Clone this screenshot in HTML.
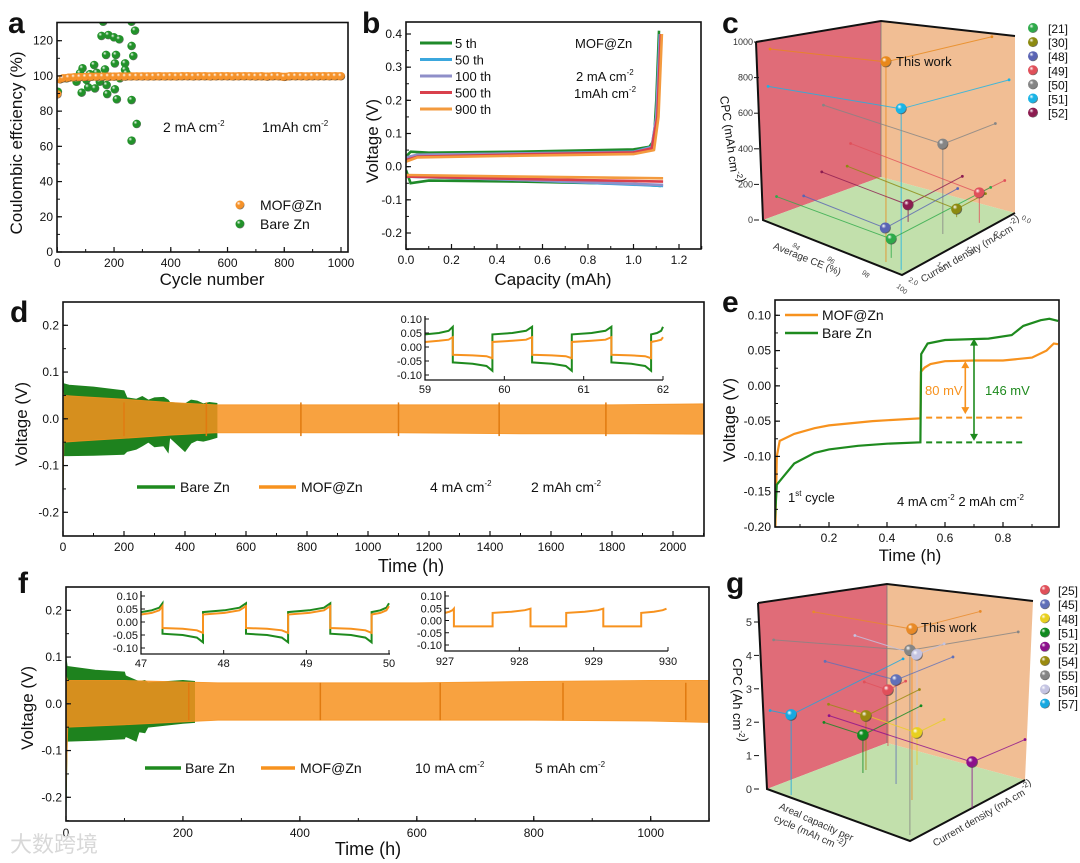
<!DOCTYPE html>
<html><head><meta charset="utf-8"><style>
html,body{margin:0;padding:0;background:#fff;}
svg{display:block;font-family:"Liberation Sans",Arial,sans-serif;}
</style></head>
<body>
<svg id="fig" width="1080" height="863" viewBox="0 0 1080 863" xmlns="http://www.w3.org/2000/svg"><defs id="defs"></defs></svg>
<script>
// ---------- Panel a data ----------
const aOrangeCycles=[1,10,20,40,60,80,100,120,140,160,180,200,220,240,260,280,300,320,340,360,380,400,420,440,460,480,500,520,540,560,580,600,620,640,660,680,700,720,740,760,780,800,820,840,860,880,900,920,940,960,980,1000];
const aOrangeCE=[89.5,98.0,98.6,99.0,99.2,99.3,99.4,99.5,99.5,99.6,99.6,99.6,99.7,99.6,99.7,99.7,99.7,99.7,99.7,99.8,99.7,99.8,99.7,99.8,99.8,99.7,99.8,99.8,99.7,99.8,99.8,99.8,99.7,99.8,99.8,99.8,99.7,99.8,99.6,99.8,99.8,99.4,99.8,99.8,99.8,99.7,99.8,99.8,99.8,99.8,99.8,99.8];
const aGreenCycles=[162,262,156,180,200,219,274,262,172,207,268,89,130,168,203,239,239,86,109,133,174,203,210,176,262,280,262,68,150,33,103,221,244,80,115,186,139,2];
const aGreenCE=[130.8,130.8,122.7,123.2,121.9,120.8,125.7,117,111.9,111.9,111.3,104.3,106.2,103.7,107.1,107.1,103.4,90.5,93.5,92.9,94.8,92.4,86.7,89.7,86.3,72.7,63.2,96.7,96.7,98.6,97.7,98.6,101.5,101.5,101,99.6,101.8,91];
const aXTicks=[0,200,400,600,800,1000];
const aYTicks=[0,20,40,60,80,100,120];
// ---------- Panel b data ----------
const bSeries=['5 th','50 th','100 th','500 th','900 th'];
const bColors=['#1f8a2a','#3ba7dd','#8f8fc9','#d9404c','#f39a3e'];
const bChargeCap=[[0,0.02,0.1,0.5,1.0,1.07,1.09,1.10,1.112],[0,0.05,0.5,1.0,1.08,1.10,1.115],[0,0.05,0.5,1.0,1.08,1.10,1.117],[0,0.05,0.5,1.0,1.08,1.105,1.12],[0,0.05,0.5,1.0,1.09,1.11,1.125]];
const bChargeV=[[0.03,0.045,0.042,0.045,0.052,0.06,0.08,0.2,0.41],[0.025,0.035,0.04,0.045,0.06,0.15,0.40],[0.028,0.036,0.04,0.044,0.058,0.15,0.40],[0.02,0.03,0.037,0.043,0.055,0.15,0.40],[0.015,0.028,0.033,0.038,0.05,0.15,0.40]];
const bDisCap=[[0,0.02,0.1,0.5,1.0,1.12],[0,0.5,1.13],[0,0.5,1.13],[0,0.5,1.13],[0,0.5,1.13]];
const bDisV=[[-0.01,-0.05,-0.042,-0.045,-0.052,-0.058],[-0.03,-0.04,-0.058],[-0.03,-0.04,-0.055],[-0.03,-0.037,-0.045],[-0.025,-0.03,-0.035]];
const bXTicks=[0,0.2,0.4,0.6,0.8,1.0,1.2];
const bYTicks=[-0.2,-0.1,0.0,0.1,0.2,0.3,0.4];
// ---------- Panel c data ----------
const cLabels=['This work','[51]','[50]','[49]','[52]','[30]','[48]','[21]'];
const cColors=['#e8881a','#1ab4e6','#858585','#e0505a','#8c1c50','#8c8a10','#5a64b4','#2eaa4a'];
const cCE=[98.67,99.66,98.87,99.41,96.97,98.3,96.7,98.6];
const cCD=[1.875,1.91,0.93,0.45,0.96,0.51,1.28,1.76];
const cCPC=[939,735,459,160,89,43,10,90];
const cLegend=['[21]','[30]','[48]','[49]','[50]','[51]','[52]'];
const cLegendColors=['#2eaa4a','#8c8a10','#5a64b4','#e0505a','#858585','#1ab4e6','#8c1c50'];
const cCPCTicks=[0,200,400,600,800,1000];
// ---------- Panel d data ----------
const dGreenT=[0,2,20,100,200,210,240,260,280,300,330,345,350,400,420,440,460,480,505];
const dGreenHi=[0.1,0.075,0.072,0.068,0.06,0.045,0.042,0.048,0.04,0.045,0.046,0.04,0.035,0.032,0.04,0.038,0.032,0.035,0.033];
const dGreenLo=[-0.19,-0.079,-0.079,-0.078,-0.076,-0.07,-0.065,-0.058,-0.05,-0.06,-0.058,-0.072,-0.04,-0.07,-0.052,-0.046,-0.048,-0.045,-0.04];
const dOrangeT=[0,3,50,200,350,500,800,1100,1500,1800,2100];
const dOrangeHi=[0.06,0.05,0.048,0.042,0.035,0.03,0.03,0.03,0.03,0.03,0.032];
const dOrangeLo=[-0.17,-0.05,-0.048,-0.042,-0.035,-0.03,-0.03,-0.03,-0.032,-0.032,-0.033];
const dSpikes=[200,470,780,1100,1430,1780];
const dXTicks=[0,200,400,600,800,1000,1200,1400,1600,1800,2000];
const dYTicks=[-0.2,-0.1,0.0,0.1,0.2];
const dInsetSwitch=[59.35,59.85,60.35,60.85,61.35,61.85];
const dInsetGreenHi=[0.045,0.05,0.058,0.072];
const dInsetGreenLo=[-0.055,-0.06,-0.068,-0.085];
const dInsetOrangeHi=[0.018,0.022,0.026,0.035];
const dInsetOrangeLo=[-0.028,-0.03,-0.033,-0.04];
// ---------- Panel e data ----------
const eOrangeT=[0.015,0.02,0.03,0.08,0.15,0.2,0.35,0.515,0.517,0.53,0.55,0.6,0.7,0.8,0.9,0.95,0.975,0.99];
const eOrangeV=[-0.2,-0.1,-0.078,-0.068,-0.06,-0.056,-0.05,-0.046,0.02,0.026,0.031,0.035,0.036,0.036,0.04,0.05,0.06,0.059];
const eGreenT=[0.012,0.02,0.04,0.08,0.15,0.2,0.3,0.4,0.515,0.518,0.54,0.6,0.75,0.83,0.87,0.93,0.96,0.99];
const eGreenV=[-0.2,-0.14,-0.13,-0.11,-0.095,-0.09,-0.085,-0.082,-0.08,0.045,0.06,0.065,0.067,0.072,0.085,0.093,0.095,0.092];
const eDashOrange=-0.045, eDashGreen=-0.08;
const eXTicks=[0.2,0.4,0.6,0.8];
const eYTicks=[-0.20,-0.15,-0.10,-0.05,0.00,0.05,0.10];
// ---------- Panel f data ----------
const fGreenT=[0,2,50,100,102,120,125,135,140,200,220];
const fGreenHi=[0.1,0.08,0.072,0.068,0.06,0.05,0.048,0.05,0.045,0.05,0.048];
const fGreenLo=[-0.25,-0.08,-0.078,-0.075,-0.07,-0.08,-0.06,-0.062,-0.05,-0.042,-0.04];
const fOrangeT=[0,3,100,260,400,600,800,1000,1100];
const fOrangeHi=[0.06,0.05,0.05,0.045,0.045,0.045,0.048,0.05,0.05];
const fOrangeLo=[-0.2,-0.05,-0.045,-0.035,-0.035,-0.035,-0.035,-0.037,-0.04];
const fSpikes=[210,435,640,850,1060];
const fXTicks=[0,200,400,600,800,1000];
const fYTicks=[-0.2,-0.1,0.0,0.1,0.2];
const f1Switch=[47.26,47.75,48.27,48.78,49.29,49.79];
const f1GreenHi=[0.038,0.045,0.055,0.072];
const f1GreenLo=[-0.045,-0.05,-0.06,-0.078];
const f1OrangeHi=[0.029,0.035,0.045,0.061];
const f1OrangeLo=[-0.023,-0.026,-0.032,-0.042];
const f2Switch=[927.12,927.64,928.15,928.63,929.13,929.64];
const f2OrangeHi=[0.031,0.036,0.042,0.048];
const f2OrangeLo=[-0.024,-0.024,-0.024,-0.024];
// ---------- Panel g data ----------
const gLabels=['This work','[55]','[56]','[45]','[25]','[57]','[54]','[51]','[48]','[52]'];
const gColors=['#e88a28','#858585','#c4c4e2','#6070b8','#e0505a','#18a8e0','#9a8a10','#108a20','#e8d020','#8c108c'];
const gAreal=[4.28,5.74,2.89,3.23,1.41,1.31,1.94,2.0,2.89,6.0];
const gCD=[5.94,9.42,2.36,4.95,1.54,9.73,4.65,5.05,2.36,4.6];
const gCPC=[4.56,4.36,3.2,2.9,1.66,2.3,1.56,1.09,0.93,1.21];
const gLegend=['[25]','[45]','[48]','[51]','[52]','[54]','[55]','[56]','[57]'];
const gLegendColors=['#e0505a','#6070b8','#e8d020','#108a20','#8c108c','#9a8a10','#858585','#c4c4e2','#18a8e0'];
const gCPCTicks=[0,1,2,3,4,5];

// ---------- helpers ----------
const NS='http://www.w3.org/2000/svg';
const svg=document.getElementById('fig');
const defs=document.getElementById('defs');
function el(tag,attrs,parent){const e=document.createElementNS(NS,tag);for(const k in attrs)e.setAttribute(k,attrs[k]);(parent||svg).appendChild(e);return e;}
function lin(d0,d1,r0,r1){return v=>r0+(v-d0)/(d1-d0)*(r1-r0);}
function txt(x,y,s,o,parent){o=o||{};const t=el('text',{x:x,y:y,'font-size':o.size||12,'text-anchor':o.anchor||'start',fill:o.fill||'#111'},parent);if(o.weight)t.setAttribute('font-weight',o.weight);if(o.rot!==undefined)t.setAttribute('transform','rotate('+o.rot+' '+x+' '+y+')');t.innerHTML=s;return t;}
function sup(s){return '<tspan dy="-6" font-size="8">'+s+'</tspan>';}
const gradCache={};
function grad(c){if(gradCache[c])return gradCache[c];const id='gr'+c.slice(1);const g=el('radialGradient',{id:id,cx:'0.4',cy:'0.38',r:'0.62',fx:'0.33',fy:'0.3'},defs);el('stop',{offset:'0',"stop-color":'#ffffff'},g);el('stop',{offset:'0.35',"stop-color":c},g);el('stop',{offset:'0.85',"stop-color":c},g);el('stop',{offset:'1',"stop-color":'#333333','stop-opacity':'0.7'},g);gradCache[c]='url(#'+id+')';return gradCache[c];}
function ball(x,y,r,c,parent){return el('circle',{cx:x,cy:y,r:r,fill:grad(c)},parent);}
function fmt(v,d){return (v<0?'-':'')+Math.abs(v).toFixed(d);}
function frame(g,x0,y0,x1,y1){return el('rect',{x:x0,y:y0,width:x1-x0,height:y1-y0,fill:'none',stroke:'#111','stroke-width':1.6},g);}
function xticks(g,xs,ticks,yb,minorStep,lo,hi,lab,dec,size){ticks.forEach(t=>{el('line',{x1:xs(t),x2:xs(t),y1:yb,y2:yb-5,stroke:'#111','stroke-width':1.2},g);const tl=txt(xs(t),yb+lab,fmt(t,dec),{anchor:'middle',size:size||12},g);});if(minorStep){for(let t=lo;t<=hi+1e-9;t+=minorStep){el('line',{x1:xs(t),x2:xs(t),y1:yb,y2:yb-3,stroke:'#111','stroke-width':1},g);}}}
function yticks(g,ys,ticks,xl,minorStep,lo,hi,dec,size){ticks.forEach(t=>{el('line',{x1:xl,x2:xl+5,y1:ys(t),y2:ys(t),stroke:'#111','stroke-width':1.2},g);const tl=txt(xl-4,ys(t)+4,fmt(t,dec),{anchor:'end',size:size||12},g);});if(minorStep){for(let t=lo;t<=hi+1e-9;t+=minorStep){el('line',{x1:xl,x2:xl+3,y1:ys(t),y2:ys(t),stroke:'#111','stroke-width':1},g);}}}
function clip(id,x0,y0,x1,y1){const c=el('clipPath',{id:id},defs);el('rect',{x:x0,y:y0,width:x1-x0,height:y1-y0},c);return 'url(#'+id+')';}
function pathOf(xs,ys,X,Y){return X.map((t,i)=>(i?'L':'M')+xs(t).toFixed(1)+' '+ys(Y[i]).toFixed(1)).join(' ');}
function band(g,xs,ys,T,H,L,color,op){let d=T.map((t,i)=>(i?'L':'M')+xs(t).toFixed(1)+' '+ys(H[i]).toFixed(1)).join(' ');for(let i=T.length-1;i>=0;i--)d+='L'+xs(T[i]).toFixed(1)+' '+ys(L[i]).toFixed(1);d+='Z';return el('path',{d:d,fill:color,'fill-opacity':op,stroke:color,'stroke-width':0.8,'stroke-opacity':op},g);}
function square(xs,ys,sw,x0,x1,hi,lo){const bounds=[x0].concat(sw).concat([x1]);const fr=[0,0.5,0.85,1];let pts=[];for(let s=0;s<bounds.length-1;s++){const a=bounds[s],b=bounds[s+1];const sh=(s%2===0)?hi:lo;fr.forEach((f,k)=>pts.push([a+(b-a)*f,sh[k]]));}return pts.map((p,i)=>(i?'L':'M')+xs(p[0]).toFixed(1)+' '+ys(p[1]).toFixed(1)).join(' ');}
function panelLetter(x,y,s){const t=txt(x,y,s,{size:30,weight:'bold'});return t;}

// ================= Panel a =================
(function(){
const g=el('g',{});


const xs=lin(0,1000,57.3,341),ys=lin(0,120,252,40.7);
const cp=clip('clipA',57,22.5,348,252);
const pts=el('g',{'clip-path':cp},g);
aGreenCycles.forEach((c,i)=>{const b=ball(xs(c),ys(aGreenCE[i]),4.3,'#22922a',pts);});
const ol=el('path',{d:pathOf(xs,ys,aOrangeCycles.slice(1),aOrangeCE.slice(1)),fill:'none',stroke:'#f5922a','stroke-width':8,'stroke-linecap':'round'},pts);


aOrangeCycles.forEach((c,i)=>{const b=ball(xs(c),ys(aOrangeCE[i]),4.2,'#f5922a',pts);});
const fr=frame(g,57,22.5,348,252);
xticks(g,xs,aXTicks,252,100,0,1000,15,0,12);
yticks(g,ys,aYTicks,57,10,0,120,0,12);
const yt=txt(22,143,'Coulombic effciency (%)',{size:17,anchor:'middle',rot:-90},g);
const xt=txt(212,285,'Cycle number',{size:17,anchor:'middle'},g);
const t1=txt(163,132,'2 mA cm'+sup('-2'),{size:14},g);
const t2=txt(262,132,'1mAh cm'+sup('-2'),{size:14},g);
const l1=ball(240,205,4.5,'#f5922a',g);
const l1t=txt(260,210,'MOF@Zn',{size:14},g);
const l2=ball(240,224,4.5,'#22922a',g);
const l2t=txt(260,229,'Bare Zn',{size:14},g);
panelLetter(8,33,'a');
})();

// ================= Panel b =================
(function(){
const g=el('g',{});


const xs=lin(0,1.2,406,679),ys=lin(0.4,-0.2,34,233);
const cp=clip('clipB',406,22,701,249);
const lg=el('g',{'clip-path':cp},g);
bSeries.forEach((s,i)=>{
 const p1=el('path',{d:pathOf(xs,ys,bChargeCap[i],bChargeV[i]),fill:'none',stroke:bColors[i],'stroke-width':2.6,'stroke-linejoin':'round'},lg);
 
 
 const p2=el('path',{d:pathOf(xs,ys,bDisCap[i],bDisV[i]),fill:'none',stroke:bColors[i],'stroke-width':2.6},lg);
 
 
 const ly=43+i*16.5;
 const ll=el('line',{x1:420,x2:452,y1:ly,y2:ly,stroke:bColors[i],'stroke-width':3},g);
 
 
 const lt=txt(455,ly+5,s,{size:13},g);
 
 
});
const fr=frame(g,406,22,701,249);
xticks(g,xs,bXTicks,249,0.1,0,1.3,15,1,12);
yticks(g,ys,bYTicks,406,0.05,-0.25,0.4,1,12);
const yt=txt(378,141,'Voltage (V)',{size:17,anchor:'middle',rot:-90},g);
const xt=txt(553,285,'Capacity (mAh)',{size:17,anchor:'middle'},g);
const a1=txt(575,48,'MOF@Zn',{size:13},g);
const a2=txt(576,81,'2 mA cm'+sup('-2'),{size:13},g);
const a3=txt(574,98,'1mAh cm'+sup('-2'),{size:13},g);
panelLetter(362,33,'b');
})();

// ================= 3D helper =================
function box3d(g,P){
 const lw=el('polygon',{points:P.lw,fill:'#e06c78'},g);
 const rw=el('polygon',{points:P.rw,fill:'#f1be94'},g);
 const fl=el('polygon',{points:P.fl,fill:'#c2e0ac'},g);
 el('line',{x1:P.B[0],y1:P.B[1],x2:P.Bt[0],y2:P.Bt[1],stroke:'#777','stroke-width':0.8},g);
 el('polyline',{points:[P.Lt,P.L,P.F,P.R].map(p=>p.join(',')).join(' '),fill:'none',stroke:'#111','stroke-width':2},g);
 el('polyline',{points:[P.Lt,P.Bt,P.Rt].map(p=>p.join(',')).join(' '),fill:'none',stroke:'#111','stroke-width':2},g);
}

// ================= Panel c =================
(function(){
const g=el('g',{});


const F=[902,275],L=[763,220],R=[1015,213];
function P(ce,cd,cpc){const u=(100-ce)/8,v=(2-cd)/2;const k=0.178+0.045*(1-u)*(1-v);return [F[0]+(L[0]-F[0])*u+(R[0]-F[0])*v,F[1]+(L[1]-F[1])*u+(R[1]-F[1])*v-cpc*k];}
box3d(g,{lw:'756,42 881,21 881,177 763,220',rw:'881,21 1015,36 1015,213 881,177',fl:'763,220 881,177 1015,213 902,275',B:[881,177],Bt:[881,21],Lt:[756,42],L:L,F:F,R:R,Rt:[1015,36]});
const cpcY=lin(0,1000,220,42);
cCPCTicks.forEach(t=>{const tl=txt(753,cpcY(t)+3,String(t),{size:9,anchor:'end',fill:'#333'},g);el('line',{x1:754,x2:759,y1:cpcY(t),y2:cpcY(t),stroke:'#111'},g);});
cLabels.forEach((lab,i)=>{
 const p=P(cCE[i],cCD[i],cCPC[i]),foot=P(cCE[i],cCD[i],0),lwp=P(92,cCD[i],cCPC[i]),rwp=P(cCE[i],0,cCPC[i]);
 const pr=el('path',{d:'M'+lwp+' L'+p+' L'+rwp+' M'+p+' L'+foot,fill:'none',stroke:cColors[i],'stroke-width':1,'stroke-opacity':0.8},g);
 
 
 el('circle',{cx:lwp[0],cy:lwp[1],r:1.4,fill:cColors[i]},g);
 el('circle',{cx:rwp[0],cy:rwp[1],r:1.4,fill:cColors[i]},g);
});
cLabels.forEach((lab,i)=>{const p=P(cCE[i],cCD[i],cCPC[i]);const b=ball(p[0],p[1],5.5,cColors[i],g);});
const tw=txt(896,66,'This work',{size:13},g);
cLegend.forEach((lab,i)=>{const y=28+i*14.1;const b=ball(1033,y,5,cLegendColors[i],g);const t=txt(1048,y+5,lab,{size:12},g);});
const yt=txt(726,140,'CPC (mAh cm'+sup('-2')+')',{size:12,anchor:'middle',rot:82},g);
const xt=txt(806,262,'Average CE (%)',{size:10,anchor:'middle',rot:22,fill:'#333'},g);
const zt=txt(973,254,'Current density (mA cm'+sup('-2')+')',{size:10,anchor:'middle',rot:-30,fill:'#333'},g);
[94,96,98,100].forEach(v=>{const p=P(v,2,0);txt(p[0]-6,p[1]+12,String(v),{size:7,fill:'#444',rot:40},g);});
[0,0.5,1,1.5,2].forEach(v=>{const p=P(100,v,0);txt(p[0]+6,p[1]+6,v.toFixed(1),{size:7,fill:'#444',rot:30},g);});
panelLetter(722,33,'c');
})();

// ================= Panel d =================
(function(){
const g=el('g',{});


const xs=lin(0,2000,63,673),ys=lin(0.2,-0.2,325.3,512.3);
const cp=clip('clipD',63,302,704,536);
const pg=el('g',{'clip-path':cp},g);
const gb=band(pg,xs,ys,dGreenT,dGreenHi,dGreenLo,'#1e821e',1);
const ob=band(pg,xs,ys,dOrangeT,dOrangeHi,dOrangeLo,'#f7921e',0.85);
dSpikes.forEach(t=>{const s=el('line',{x1:xs(t),x2:xs(t),y1:ys(0.035),y2:ys(-0.037),stroke:'#e07a10','stroke-width':1.5},pg);});
const fr=frame(g,63,302,704,536);
xticks(g,xs,dXTicks,536,100,0,2100,15,0,12);
yticks(g,ys,dYTicks,63,0.05,-0.2,0.2,1,12);
const ixs=lin(59,62,425,663),iys=lin(0.1,-0.1,319,375);
const ig=el('g',{},g);


const ip1=el('path',{d:square(ixs,iys,dInsetSwitch,59,62,dInsetGreenHi,dInsetGreenLo),fill:'none',stroke:'#1e8a1e','stroke-width':2},ig);
const ip2=el('path',{d:square(ixs,iys,dInsetSwitch,59,62,dInsetOrangeHi,dInsetOrangeLo),fill:'none',stroke:'#f7921e','stroke-width':2},ig);
el('path',{d:'M425 316 V380 H663',fill:'none',stroke:'#111','stroke-width':1.3},ig);
[0.10,0.05,0.00,-0.05,-0.10].forEach(v=>{el('line',{x1:425,x2:429,y1:iys(v),y2:iys(v),stroke:'#111'},ig);const t=txt(422,iys(v)+4,fmt(v,2),{size:11,anchor:'end'},ig);});
[59,60,61,62].forEach(v=>{el('line',{x1:ixs(v),x2:ixs(v),y1:380,y2:376,stroke:'#111'},ig);const t=txt(ixs(v),393,String(v),{size:11,anchor:'middle'},ig);});
const l1=el('line',{x1:137,x2:175,y1:487,y2:487,stroke:'#1e8a1e','stroke-width':3.5},g);
const l1t=txt(180,492,'Bare Zn',{size:14},g);
const l2=el('line',{x1:259,x2:296,y1:487,y2:487,stroke:'#f7921e','stroke-width':3.5},g);
const l2t=txt(301,492,'MOF@Zn',{size:14},g);
const n1=txt(430,492,'4 mA cm'+sup('-2'),{size:14},g);
const n2=txt(531,492,'2 mAh cm'+sup('-2'),{size:14},g);
const yt=txt(27,424,'Voltage (V)',{size:17,anchor:'middle',rot:-90},g);
const xt=txt(411,572,'Time (h)',{size:18,anchor:'middle'},g);
panelLetter(10,322,'d');
})();

// ================= Panel e =================
(function(){
const g=el('g',{});


const xs=lin(0,1,771,1061),ys=lin(0.1,-0.2,315.3,527);
const cp=clip('clipE',775,300,1059,527);
const pg=el('g',{'clip-path':cp},g);
const og=el('path',{d:pathOf(xs,ys,eOrangeT,eOrangeV),fill:'none',stroke:'#f7921e','stroke-width':2.2},pg);
const gg=el('path',{d:pathOf(xs,ys,eGreenT,eGreenV),fill:'none',stroke:'#1e8a1e','stroke-width':2.2},pg);
const d1=el('line',{x1:xs(0.535),x2:xs(0.87),y1:ys(eDashOrange),y2:ys(eDashOrange),stroke:'#f7921e','stroke-width':2,'stroke-dasharray':'6,4'},g);
const d2=el('line',{x1:xs(0.535),x2:xs(0.87),y1:ys(eDashGreen),y2:ys(eDashGreen),stroke:'#1e8a1e','stroke-width':2,'stroke-dasharray':'6,4'},g);
function darrow(x,y1,y2,c,name){const a=el('g',{},g);el('line',{x1:x,x2:x,y1:y1+4,y2:y2-4,stroke:c,'stroke-width':1.6},a);el('polygon',{points:(x-4)+','+(y1+7)+' '+(x+4)+','+(y1+7)+' '+x+','+y1,fill:c},a);el('polygon',{points:(x-4)+','+(y2-7)+' '+(x+4)+','+(y2-7)+' '+x+','+y2,fill:c},a);}
darrow(xs(0.67),ys(0.035),ys(-0.04),'#f7921e','overpotential-arrow-mof-zn');
darrow(xs(0.70),ys(0.067),ys(-0.078),'#1e8a1e','overpotential-arrow-bare-zn');
const m1=txt(925,395,'80 mV',{size:13,fill:'#f7921e'},g);
const m2=txt(985,395,'146 mV',{size:13,fill:'#1e8a1e'},g);
const fr=frame(g,775,300,1059,527);
xticks(g,xs,eXTicks,527,0.1,0.1,0.9,15,1,12);
yticks(g,ys,eYTicks,775,0.025,-0.2,0.1,2,12);
const l1=el('line',{x1:785,x2:818,y1:315,y2:315,stroke:'#f7921e','stroke-width':2.5},g);
const l1t=txt(822,320,'MOF@Zn',{size:14},g);
const l2=el('line',{x1:785,x2:818,y1:333,y2:333,stroke:'#1e8a1e','stroke-width':2.5},g);
const l2t=txt(822,338,'Bare Zn',{size:14},g);
const c1=txt(788,502,'1<tspan dy="-6" font-size="8">st</tspan><tspan dy="6"> cycle</tspan>',{size:13},g);
const c2=txt(897,506,'4 mA cm<tspan dy="-6" font-size="8">-2</tspan><tspan dy="6">  2 mAh cm</tspan><tspan dy="-6" font-size="8">-2</tspan>',{size:13},g);
const yt=txt(735,420,'Voltage (V)',{size:17,anchor:'middle',rot:-90},g);
const xt=txt(910,561,'Time (h)',{size:17,anchor:'middle'},g);
panelLetter(722,312,'e');
})();

// ================= Panel f =================
(function(){
const g=el('g',{});


const xs=lin(0,1000,66,650.7),ys=lin(0.2,-0.2,610.3,797.3);
const cp=clip('clipF',66,587,709,821);
const pg=el('g',{'clip-path':cp},g);
const gb=band(pg,xs,ys,fGreenT,fGreenHi,fGreenLo,'#1e821e',1);
const ob=band(pg,xs,ys,fOrangeT,fOrangeHi,fOrangeLo,'#f7921e',0.85);
fSpikes.forEach(t=>{const s=el('line',{x1:xs(t),x2:xs(t),y1:ys(0.045),y2:ys(-0.035),stroke:'#e07a10','stroke-width':1.5},pg);});
const fr=frame(g,66,587,709,821);
xticks(g,xs,fXTicks,821,100,0,1100,16,0,12);
yticks(g,ys,fYTicks,66,0.05,-0.25,0.25,1,12);
const i1x=lin(47,50,141,389),i1y=lin(0.1,-0.1,596,648);
const i1=el('g',{},g);
const a=el('path',{d:square(i1x,i1y,f1Switch,47,50,f1GreenHi,f1GreenLo),fill:'none',stroke:'#1e8a1e','stroke-width':2},i1);
const b=el('path',{d:square(i1x,i1y,f1Switch,47,50,f1OrangeHi,f1OrangeLo),fill:'none',stroke:'#f7921e','stroke-width':2},i1);
el('path',{d:'M141 591 V654 H390',fill:'none',stroke:'#111','stroke-width':1.3},i1);
[0.10,0.05,0.00,-0.05,-0.10].forEach(v=>{el('line',{x1:141,x2:145,y1:i1y(v),y2:i1y(v),stroke:'#111'},i1);const t=txt(138,i1y(v)+4,fmt(v,2),{size:11,anchor:'end'},i1);});
[47,48,49,50].forEach(v=>{el('line',{x1:i1x(v),x2:i1x(v),y1:654,y2:650,stroke:'#111'},i1);const t=txt(i1x(v),667,String(v),{size:11,anchor:'middle'},i1);});
const i2x=lin(927,930,445,668),i2y=lin(0.1,-0.1,596,645);
const i2=el('g',{},g);
const c=el('path',{d:square(i2x,i2y,f2Switch,927,929.98,f2OrangeHi,f2OrangeLo),fill:'none',stroke:'#f7921e','stroke-width':2},i2);
el('path',{d:'M445 591 V651 H668',fill:'none',stroke:'#111','stroke-width':1.3},i2);
[0.10,0.05,0.00,-0.05,-0.10].forEach(v=>{el('line',{x1:445,x2:449,y1:i2y(v),y2:i2y(v),stroke:'#111'},i2);const t=txt(442,i2y(v)+4,fmt(v,2),{size:11,anchor:'end'},i2);});
[927,928,929,930].forEach(v=>{el('line',{x1:i2x(v),x2:i2x(v),y1:651,y2:647,stroke:'#111'},i2);const t=txt(i2x(v),665,String(v),{size:11,anchor:'middle'},i2);});
const l1=el('line',{x1:145,x2:181,y1:768,y2:768,stroke:'#1e8a1e','stroke-width':3.5},g);
const l1t=txt(185,773,'Bare Zn',{size:14},g);
const l2=el('line',{x1:261,x2:295,y1:768,y2:768,stroke:'#f7921e','stroke-width':3.5},g);
const l2t=txt(300,773,'MOF@Zn',{size:14},g);
const n1=txt(415,773,'10 mA cm'+sup('-2'),{size:14},g);
const n2=txt(535,773,'5 mAh cm'+sup('-2'),{size:14},g);
const yt=txt(33,708,'Voltage (V)',{size:17,anchor:'middle',rot:-90},g);
const xt=txt(368,855,'Time (h)',{size:18,anchor:'middle'},g);
panelLetter(18,593,'f');
const wm=txt(10,852,'大数跨境',{size:22,fill:'#d8d8d8'},g);wm.setAttribute('font-family','"Liberation Sans","Noto Sans CJK SC",sans-serif');
})();

// ================= Panel g =================
(function(){
const g=el('g',{});


const F=[910,841],L=[767,789],R=[1025,780];
function P(ar,cd,cpc){const u=(6-ar)/5.5,v=(10-cd)/10;const k=33.4+10*(1-u)*(1-v);return [F[0]+(L[0]-F[0])*u+(R[0]-F[0])*v,F[1]+(L[1]-F[1])*u+(R[1]-F[1])*v-cpc*k];}
box3d(g,{lw:'758,603 887,584 887,743 767,789',rw:'887,584 1033,601 1025,780 887,743',fl:'767,789 887,743 1025,780 910,841',B:[887,743],Bt:[887,584],Lt:[758,603],L:L,F:F,R:R,Rt:[1033,601]});
const cy=lin(0,5,789,622);
gCPCTicks.forEach(t=>{const tl=txt(752,cy(t)+4,String(t),{size:11,anchor:'end',fill:'#333'},g);el('line',{x1:754,x2:759,y1:cy(t),y2:cy(t),stroke:'#111'},g);});
gLabels.forEach((lab,i)=>{
 const p=P(gAreal[i],gCD[i],gCPC[i]),foot=P(gAreal[i],gCD[i],0),lwp=P(0.5,gCD[i],gCPC[i]),rwp=P(gAreal[i],0,gCPC[i]);
 const pr=el('path',{d:'M'+lwp+' L'+p+' L'+rwp+' M'+p+' L'+foot,fill:'none',stroke:gColors[i],'stroke-width':1,'stroke-opacity':0.8},g);
 
 
 el('circle',{cx:lwp[0],cy:lwp[1],r:1.4,fill:gColors[i]},g);
 el('circle',{cx:rwp[0],cy:rwp[1],r:1.4,fill:gColors[i]},g);
});
gLabels.forEach((lab,i)=>{const p=P(gAreal[i],gCD[i],gCPC[i]);const b=ball(p[0],p[1],5.8,gColors[i],g);});
const tw=txt(921,632,'This work',{size:13},g);
gLegend.forEach((lab,i)=>{const y=590+i*14.2;const b=ball(1045,y,5,gLegendColors[i],g);const t=txt(1058,y+5,lab,{size:12},g);});
const yt=txt(733,700,'CPC (Ah cm'+sup('-2')+')',{size:13,anchor:'middle',rot:90},g);
const xt=txt(815,825,'Areal capacity per',{size:10,anchor:'middle',rot:24,fill:'#333'},g);
const xt2=txt(808,836,'cycle (mAh cm'+sup('-2')+')',{size:10,anchor:'middle',rot:24,fill:'#333'},g);
const zt=txt(985,818,'Current density (mA cm'+sup('-2')+')',{size:10,anchor:'middle',rot:-30,fill:'#333'},g);
panelLetter(726,593,'g');
})();
</script>
</body></html>
